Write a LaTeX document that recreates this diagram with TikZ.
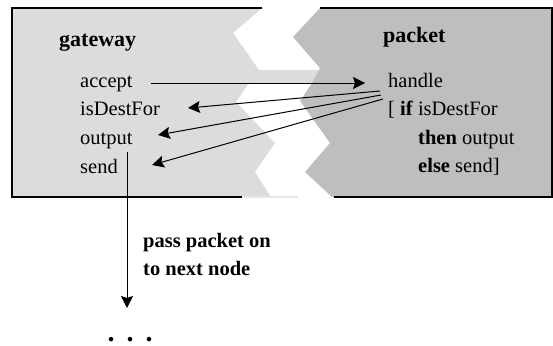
\documentclass[tikz,border=0pt]{standalone}
\usepackage{fontspec}
\setmainfont{Liberation Serif}
\usetikzlibrary{arrows.meta}
\definecolor{lightbox}{HTML}{DCDCDC}
\definecolor{darkbox}{HTML}{BEBEBE}
\definecolor{faintline}{HTML}{E6E6E6}
\begin{document}
\begin{tikzpicture}[x=1pt,y=-1pt,
  txt/.style={inner sep=0pt, anchor=base west, font=\fontsize{20.5}{24}\selectfont},
  ttl/.style={inner sep=0pt, anchor=base west, font=\fontsize{22}{26}\selectfont\bfseries},
  btxt/.style={inner sep=0pt, anchor=base west, font=\fontsize{20.5}{24}\selectfont\bfseries},
  conn/.style={line width=1pt, -{Stealth[length=12pt,width=12pt,inset=2pt]}},
  border/.style={line width=1.8pt, line join=miter}]
\useasboundingbox (0,0) rectangle (553,345);
% boxes
\fill[lightbox] (12,8) -- (262,8) -- (233,33) -- (259,70) -- (322,70) -- (322,83)
  -- (249,83) -- (236,102) -- (275,143) -- (255,172) -- (271,197) -- (12,197) -- cycle;
\fill[darkbox] (553,8) -- (320,8) -- (293,37) -- (320,68) -- (312,83) -- (300,101)
  -- (330,143) -- (305,172) -- (332,197) -- (553,197) -- cycle;
\draw[border] (262,8) -- (12,8) -- (12,197) -- (242,197);
\draw[faintline, line width=1.2pt] (242,197) -- (298,197);
\draw[border] (320,8) -- (552,8) -- (552,197) -- (334,197);
% texts
\node[ttl] (gw) at (59,47) {gateway};
\node[ttl] (pk) at (383,42) {packet};
\node[txt] (accept) at (80,87) {accept};
\node[txt] (isdest) at (80,115) {isDestFor};
\node[txt] (output) at (80,144) {output};
\node[txt] (send) at (80,173) {send};
\node[txt] (handle) at (388,87) {handle};
\node[txt] (ifline) at (388,115) {[ \textbf{if} isDestFor};
\node[txt] (thenline) at (418,144) {\textbf{then} output};
\node[txt] (elseline) at (418,172) {\textbf{else} send]};
\node[btxt] (pass1) at (143,247) {pass packet on};
\node[btxt] (pass2) at (143,275) {to next node};
\node[inner sep=0pt, anchor=base west, font=\fontsize{28}{30}\selectfont\bfseries] (dots) at (107.5,341.5) {.\hspace{12pt}.\hspace{12pt}.};
% connector ends
\coordinate (accS) at (151,83);
\coordinate (accE) at (365,83);
\coordinate (h1) at (380,91);
\coordinate (h2) at (381,95);
\coordinate (h3) at (383,99);
\coordinate (isT) at (188,108);
\coordinate (outT) at (158,135);
\coordinate (sendT) at (152,165);
\coordinate (downS) at (127,152);
\coordinate (downE) at (127,308);
% connectors
\draw[conn] (accS) -- (accE);
\draw[conn] (h1) -- (isT);
\draw[conn] (h2) -- (outT);
\draw[conn] (h3) -- (sendT);
\draw[conn] (downS) -- (downE);
\end{tikzpicture}
\end{document}
